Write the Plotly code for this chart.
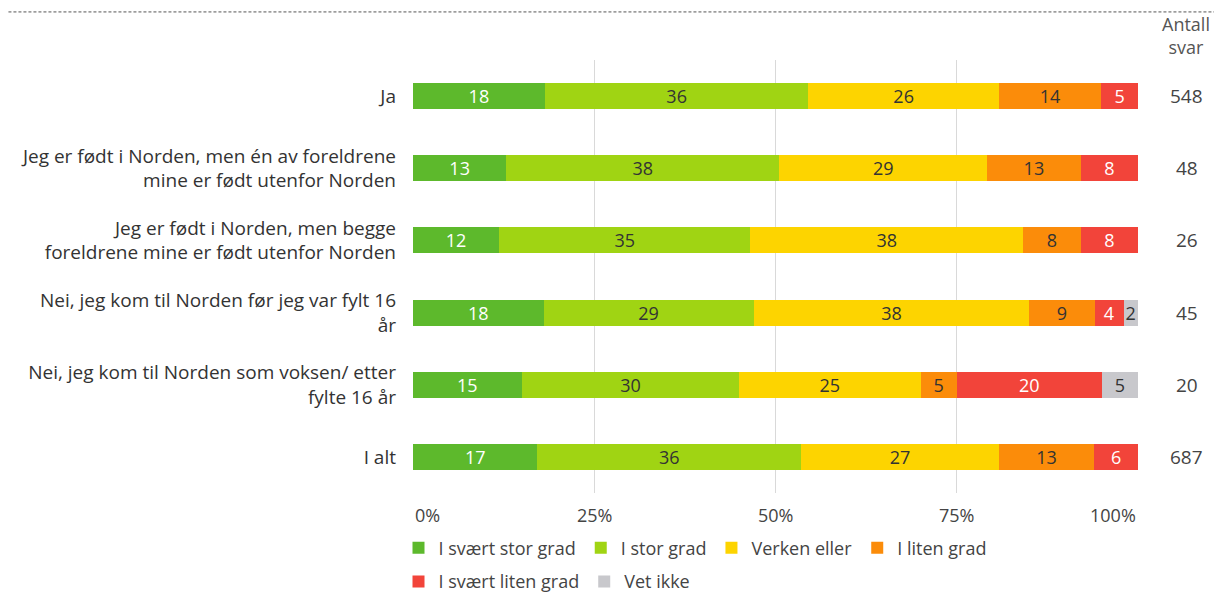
import plotly.graph_objects as go

categories = [
    "Ja",
    "Jeg er født i Norden, men én av foreldrene<br>mine er født utenfor Norden",
    "Jeg er født i Norden, men begge<br>foreldrene mine er født utenfor Norden",
    "Nei, jeg kom til Norden før jeg var fylt 16<br>år",
    "Nei, jeg kom til Norden som voksen/ etter<br>fylte 16 år",
    "I alt",
]
series_names = ["I svært stor grad", "I stor grad", "Verken eller", "I liten grad",
                "I svært liten grad", "Vet ikke"]
svaert_stor = [18, 13, 12, 18, 15, 17]
stor = [36, 38, 35, 29, 30, 36]
verken = [26, 29, 38, 38, 25, 27]
liten = [14, 13, 8, 9, 5, 13]
svaert_liten = [5, 8, 8, 4, 20, 6]
vet_ikke = [None, None, None, 2, 5, None]
antall = [548, 48, 26, 45, 20, 687]
tick_vals = [0, 25, 50, 75, 100]
tick_text = ["0%", "25%", "50%", "75%", "100%"]

FONT = "Open Sans"
colors = ["#5db92c", "#a0d413", "#fdd400", "#fb8c0a", "#f2443a", "#c8c8cc"]
text_colors = ["white", "#333333", "#333333", "#333333", "white", "#333333"]
legend_ids = ["legend", "legend", "legend", "legend", "legend2", "legend2"]
series = [svaert_stor, stor, verken, liten, svaert_liten, vet_ikke]

fig = go.Figure()
for name, vals, col, tcol, lg in zip(series_names, series, colors, text_colors, legend_ids):
    fig.add_trace(go.Bar(
        y=categories, x=vals, name=name, orientation="h",
        marker=dict(color=col, line=dict(width=0)),
        text=[("" if v is None else str(v)) for v in vals],
        textposition="inside", insidetextanchor="middle", textangle=0,
        textfont=dict(color=tcol, size=18, family=FONT),
        hoverinfo="skip", legend=lg,
    ))

annotations = []
for cat, n in zip(categories, antall):
    annotations.append(dict(x=1.0675, xref="paper", y=cat, yref="y", text=str(n),
                            showarrow=False, xanchor="center",
                            font=dict(size=19, color="#444444", family=FONT)))
annotations.append(dict(x=1.0665, xref="paper", y=1.0, yref="paper", yshift=-1,
                        text="Antall<br>svar", showarrow=False, xanchor="center", yanchor="bottom",
                        font=dict(size=18, color="#555555", family=FONT)))
for v, t in zip(tick_vals, tick_text):
    anchor = "left" if v == 0 else ("right" if v == 100 else "center")
    annotations.append(dict(x=v, xref="x", y=0, yref="paper", yshift=-22, text=t,
                            showarrow=False, xanchor=anchor, yanchor="middle",
                            font=dict(size=18, color="#444444", family=FONT)))

legend_style = dict(orientation="h", xanchor="left", yanchor="middle", yref="container",
                    font=dict(size=18, color="#444444", family=FONT), traceorder="normal",
                    itemwidth=30, tracegroupgap=0, bgcolor="rgba(0,0,0,0)")

fig.update_layout(
    barmode="stack", barnorm="percent",
    width=1214, height=593,
    margin=dict(l=413, r=76, t=60, b=100, autoexpand=False),
    paper_bgcolor="white", plot_bgcolor="white",
    font=dict(family=FONT, size=18, color="#333333"),
    bargap=0.64,
    uniformtext=dict(minsize=17, mode="show"),
    xaxis=dict(range=[0, 100], tickvals=tick_vals, showticklabels=False,
               showgrid=True, gridcolor="#d9d9d9", gridwidth=1, zeroline=False, fixedrange=True),
    yaxis=dict(autorange="reversed", ticks="", ticklabelstandoff=16,
               tickfont=dict(size=19, color="#333333", family=FONT), showgrid=False),
    legend=dict(x=-0.02, y=0.076, **legend_style),
    legend2=dict(x=-0.02, y=0.019, **legend_style),
    annotations=annotations,
    shapes=[dict(type="line", xref="paper", yref="paper", x0=-0.558, x1=1.11, y0=1.111, y1=1.111,
                 line=dict(color="#555555", width=1, dash="3px,2px"))],
    showlegend=True,
)

fig.write_html("out.html", config={"displayModeBar": False},
               post_script="document.body.style.margin='0';document.body.style.overflow='hidden';")
